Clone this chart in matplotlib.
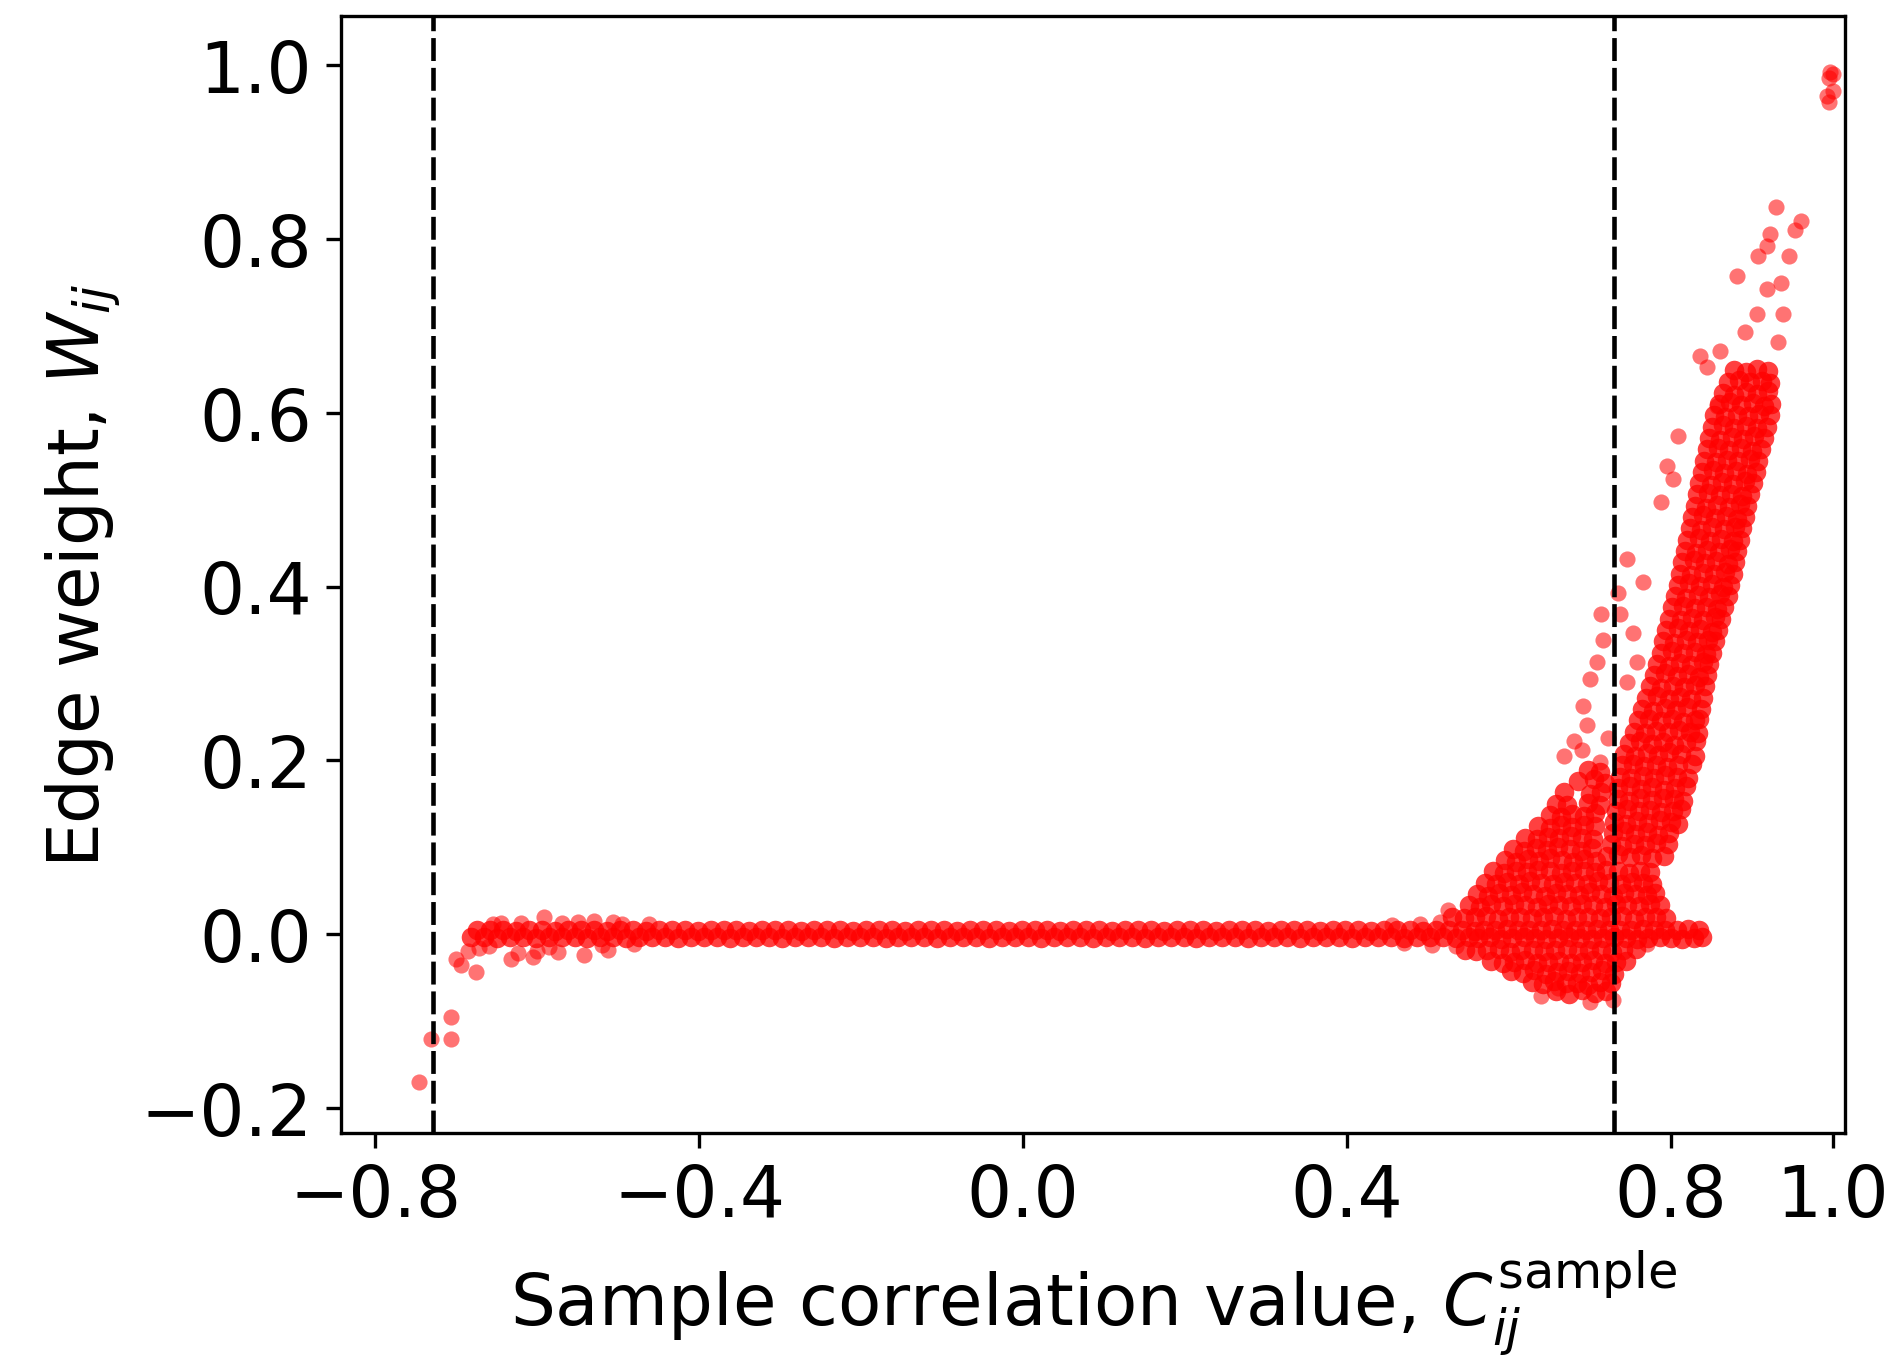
import matplotlib.pyplot as plt

# thresholds (dashed lines)
thresholds = [-0.729, 0.729]

# band of near-zero weights
band_x = [
    -0.674, -0.658, -0.642, -0.626, -0.610, -0.594, -0.578, -0.562, -0.546,
    -0.530, -0.514, -0.498, -0.482, -0.466, -0.450, -0.434, -0.418, -0.402, -0.386,
    -0.370, -0.354, -0.338, -0.322, -0.306, -0.290, -0.274, -0.258, -0.242, -0.226,
    -0.210, -0.194, -0.178, -0.162, -0.146, -0.130, -0.114, -0.098, -0.082, -0.066,
    -0.050, -0.034, -0.018, -0.002, 0.014, 0.030, 0.046, 0.062, 0.078, 0.094,
    0.110, 0.126, 0.142, 0.158, 0.174, 0.190, 0.206, 0.222, 0.238, 0.254,
    0.270, 0.286, 0.302, 0.318, 0.334, 0.350, 0.366, 0.382, 0.398, 0.414,
    0.430, 0.446, 0.462, 0.478, 0.494, 0.510, 0.526, 0.542, 0.558,
    -0.682, -0.666, -0.650, -0.634, -0.618, -0.602, -0.586, -0.570, -0.554, -0.538,
    -0.522, -0.506, -0.490, -0.474, -0.458, -0.442, -0.426, -0.410, -0.394, -0.378,
    -0.362, -0.346, -0.330, -0.314, -0.298, -0.282, -0.266, -0.250, -0.234, -0.218,
    -0.202, -0.186, -0.170, -0.154, -0.138, -0.122, -0.106, -0.090, -0.074, -0.058,
    -0.042, -0.026, -0.010, 0.006, 0.022, 0.038, 0.054, 0.070, 0.086, 0.102,
    0.118, 0.134, 0.150, 0.166, 0.182, 0.198, 0.214, 0.230, 0.246, 0.262,
    0.278, 0.294, 0.310, 0.326, 0.342, 0.358, 0.374, 0.390, 0.406, 0.422,
    0.438, 0.454, 0.470, 0.486, 0.502, 0.518, 0.534, 0.550,
]
band_y = [
    0.004, 0.005, 0.004, 0.003, 0.005, 0.004, 0.003, 0.004, 0.005,
    0.004, 0.003, 0.005, 0.004, 0.003, 0.004, 0.005, 0.004, 0.003, 0.004,
    0.005, 0.004, 0.003, 0.004, 0.005, 0.004, 0.003, 0.004, 0.005, 0.004,
    0.003, 0.004, 0.005, 0.004, 0.003, 0.004, 0.005, 0.004, 0.003, 0.004,
    0.005, 0.004, 0.003, 0.004, 0.005, 0.004, 0.003, 0.004, 0.005, 0.004,
    0.003, 0.004, 0.005, 0.004, 0.003, 0.004, 0.005, 0.004, 0.003, 0.004,
    0.005, 0.004, 0.003, 0.004, 0.005, 0.004, 0.003, 0.004, 0.005, 0.004,
    0.003, 0.004, 0.005, 0.004, 0.003, 0.004, 0.005, 0.004, 0.003,
    -0.004, -0.003, -0.005, -0.004, -0.003, -0.005, -0.004, -0.003, -0.004, -0.005,
    -0.004, -0.003, -0.005, -0.004, -0.003, -0.004, -0.005, -0.004, -0.003, -0.004,
    -0.005, -0.004, -0.003, -0.004, -0.005, -0.004, -0.003, -0.004, -0.005, -0.004,
    -0.003, -0.004, -0.005, -0.004, -0.003, -0.004, -0.005, -0.004, -0.003, -0.004,
    -0.005, -0.004, -0.003, -0.004, -0.005, -0.004, -0.003, -0.004, -0.005, -0.004,
    -0.003, -0.004, -0.005, -0.004, -0.003, -0.004, -0.005, -0.004, -0.003, -0.004,
    -0.005, -0.004, -0.003, -0.004, -0.005, -0.004, -0.003, -0.004, -0.005, -0.004,
    -0.003, -0.004, -0.005, -0.004, -0.003, -0.004, -0.005, -0.004,
]

# dense cloud around 0.5 .. 0.8
cloud_x = [
    0.658, 0.674, 0.690, 0.706, 0.720,
    0.628, 0.642, 0.656, 0.670, 0.684, 0.698, 0.712, 0.726,
    0.603, 0.617, 0.631, 0.645, 0.659, 0.673, 0.687, 0.701, 0.715, 0.729,
    0.578, 0.592, 0.606, 0.620, 0.634, 0.648, 0.662, 0.676, 0.690, 0.704, 0.718, 0.732, 0.745,
    0.545, 0.559, 0.573, 0.587, 0.601, 0.615, 0.629, 0.643, 0.657, 0.671, 0.685, 0.699, 0.713, 0.727, 0.741, 0.757,
    0.562, 0.576, 0.590, 0.604, 0.618, 0.632, 0.646, 0.660, 0.674, 0.688, 0.702, 0.716, 0.730, 0.744, 0.758, 0.772,
    0.786, 0.800, 0.814, 0.828, 0.838,
    0.569, 0.583, 0.597, 0.611, 0.625, 0.639, 0.653, 0.667, 0.681, 0.695, 0.709, 0.723, 0.737, 0.751, 0.765, 0.779,
    0.793, 0.807, 0.821, 0.835,
    0.530, 0.544, 0.558, 0.572, 0.586, 0.600, 0.614, 0.628, 0.642, 0.656, 0.670, 0.684, 0.698, 0.712, 0.726, 0.740,
    0.754, 0.768, 0.782, 0.794,
    0.550, 0.564, 0.578, 0.592, 0.606, 0.620, 0.634, 0.648, 0.662, 0.676, 0.690, 0.704, 0.718, 0.732, 0.746, 0.760, 0.774, 0.786,
    0.560, 0.574, 0.588, 0.602, 0.616, 0.630, 0.644, 0.658, 0.672, 0.686, 0.700, 0.714, 0.728, 0.742, 0.756, 0.770, 0.780,
    0.570, 0.584, 0.598, 0.612, 0.626, 0.640, 0.654, 0.668, 0.682, 0.696, 0.710, 0.724, 0.738, 0.752, 0.766, 0.776,
    0.580, 0.594, 0.608, 0.622, 0.636, 0.650, 0.664, 0.678, 0.692, 0.706, 0.720, 0.734, 0.748, 0.762, 0.774,
    0.595, 0.609, 0.623, 0.637, 0.651, 0.665, 0.679, 0.693, 0.707,
    0.605, 0.619, 0.633, 0.647, 0.661, 0.675, 0.689, 0.703,
    0.620, 0.634, 0.648, 0.662, 0.676, 0.690, 0.704,
    0.636, 0.650, 0.664, 0.678, 0.692, 0.706,
    0.650, 0.664, 0.678, 0.692, 0.706,
    0.658, 0.672, 0.698, 0.712,
    0.668, 0.700, 0.714,
    0.685, 0.705, 0.718,
    0.698, 0.712,
]
cloud_y = [
    -0.066, -0.069, -0.065, -0.068, -0.066,
    -0.055, -0.058, -0.054, -0.057, -0.056, -0.059, -0.055, -0.057,
    -0.043, -0.045, -0.042, -0.046, -0.044, -0.043, -0.045, -0.044, -0.042, -0.046,
    -0.031, -0.033, -0.032, -0.030, -0.034, -0.032, -0.031, -0.033, -0.032, -0.030, -0.033, -0.032, -0.031,
    -0.018, -0.020, -0.019, -0.017, -0.021, -0.019, -0.018, -0.020, -0.019, -0.017, -0.020, -0.019, -0.018, -0.021, -0.019, -0.017,
    -0.005, -0.004, -0.006, -0.005, -0.004, -0.005, -0.006, -0.005, -0.004, -0.005, -0.006, -0.005, -0.004, -0.005, -0.006, -0.005,
    -0.004, -0.005, -0.006, -0.005, -0.004,
    0.005, 0.004, 0.006, 0.005, 0.004, 0.005, 0.006, 0.005, 0.004, 0.005, 0.006, 0.005, 0.004, 0.005, 0.006, 0.005,
    0.004, 0.005, 0.006, 0.005,
    0.020, 0.018, 0.019, 0.021, 0.017, 0.019, 0.020, 0.018, 0.019, 0.021, 0.017, 0.019, 0.020, 0.018, 0.019, 0.021,
    0.017, 0.019, 0.020, 0.018,
    0.033, 0.031, 0.034, 0.032, 0.035, 0.033, 0.031, 0.034, 0.033, 0.032, 0.035, 0.033, 0.031, 0.034, 0.033, 0.032, 0.034, 0.033,
    0.046, 0.044, 0.047, 0.045, 0.048, 0.046, 0.044, 0.047, 0.046, 0.045, 0.048, 0.046, 0.044, 0.047, 0.046, 0.045, 0.047,
    0.059, 0.057, 0.060, 0.058, 0.061, 0.059, 0.057, 0.060, 0.059, 0.058, 0.061, 0.059, 0.057, 0.060, 0.059, 0.058,
    0.072, 0.070, 0.073, 0.071, 0.074, 0.072, 0.070, 0.073, 0.072, 0.071, 0.074, 0.072, 0.070, 0.073, 0.071,
    0.085, 0.083, 0.086, 0.084, 0.087, 0.085, 0.083, 0.086, 0.084,
    0.098, 0.096, 0.099, 0.097, 0.100, 0.098, 0.096, 0.099,
    0.111, 0.109, 0.112, 0.110, 0.113, 0.111, 0.109,
    0.124, 0.122, 0.125, 0.123, 0.126, 0.124,
    0.137, 0.135, 0.138, 0.136, 0.139,
    0.150, 0.148, 0.151, 0.149,
    0.163, 0.161, 0.164,
    0.176, 0.178, 0.174,
    0.189, 0.187,
]

# rising streak of strong edges
streak_x = [
    0.721, 0.735, 0.749, 0.763, 0.777, 0.791,
    0.726, 0.740, 0.754, 0.768, 0.782, 0.796,
    0.728, 0.742, 0.756, 0.770, 0.784, 0.798,
    0.730, 0.744, 0.758, 0.772, 0.786, 0.800, 0.808,
    0.732, 0.746, 0.760, 0.774, 0.788, 0.802, 0.812,
    0.734, 0.748, 0.762, 0.776, 0.790, 0.804, 0.815,
    0.735, 0.749, 0.763, 0.777, 0.791, 0.805, 0.819,
    0.737, 0.751, 0.765, 0.779, 0.793, 0.807, 0.821,
    0.739, 0.753, 0.767, 0.781, 0.795, 0.809, 0.826,
    0.742, 0.756, 0.770, 0.784, 0.798, 0.812, 0.829,
    0.748, 0.762, 0.776, 0.790, 0.804, 0.818, 0.831,
    0.754, 0.768, 0.782, 0.796, 0.810, 0.824, 0.833,
    0.759, 0.773, 0.787, 0.801, 0.815, 0.829, 0.835,
    0.764, 0.778, 0.792, 0.806, 0.820, 0.837,
    0.769, 0.783, 0.797, 0.811, 0.825, 0.839,
    0.774, 0.788, 0.802, 0.816, 0.830, 0.842,
    0.779, 0.793, 0.807, 0.821, 0.835, 0.844,
    0.783, 0.797, 0.811, 0.825, 0.839, 0.847,
    0.787, 0.801, 0.815, 0.829, 0.843, 0.851,
    0.790, 0.804, 0.818, 0.832, 0.846, 0.854,
    0.794, 0.808, 0.822, 0.836, 0.850, 0.858,
    0.798, 0.812, 0.826, 0.840, 0.854, 0.862,
    0.801, 0.815, 0.829, 0.843, 0.857, 0.866,
    0.805, 0.819, 0.833, 0.847, 0.861, 0.870,
    0.808, 0.822, 0.836, 0.850, 0.864, 0.873,
    0.811, 0.825, 0.839, 0.853, 0.867, 0.876,
    0.814, 0.828, 0.842, 0.856, 0.870, 0.879,
    0.817, 0.831, 0.845, 0.859, 0.873, 0.882,
    0.820, 0.834, 0.848, 0.862, 0.876, 0.885,
    0.823, 0.837, 0.851, 0.865, 0.879, 0.888,
    0.826, 0.840, 0.854, 0.868, 0.882, 0.891,
    0.829, 0.843, 0.857, 0.871, 0.885, 0.894,
    0.832, 0.846, 0.860, 0.874, 0.888, 0.898,
    0.835, 0.849, 0.863, 0.877, 0.891, 0.901,
    0.838, 0.852, 0.866, 0.880, 0.894, 0.905,
    0.841, 0.855, 0.869, 0.883, 0.897, 0.908,
    0.844, 0.858, 0.872, 0.886, 0.900, 0.911,
    0.847, 0.861, 0.875, 0.889, 0.903, 0.915,
    0.850, 0.864, 0.878, 0.892, 0.906, 0.919,
    0.853, 0.867, 0.881, 0.895, 0.909, 0.922,
    0.859, 0.873, 0.887, 0.901, 0.915, 0.923,
    0.864, 0.878, 0.892, 0.906, 0.920,
    0.870, 0.884, 0.898, 0.912, 0.922,
    0.878, 0.892, 0.906, 0.920,
]
streak_y = [
    0.090, 0.092, 0.089, 0.091, 0.088, 0.090,
    0.103, 0.101, 0.104, 0.102, 0.105, 0.103,
    0.116, 0.118, 0.115, 0.117, 0.114, 0.116,
    0.129, 0.127, 0.130, 0.128, 0.131, 0.129, 0.127,
    0.142, 0.144, 0.141, 0.143, 0.140, 0.142, 0.144,
    0.155, 0.153, 0.156, 0.154, 0.157, 0.155, 0.153,
    0.168, 0.170, 0.167, 0.169, 0.166, 0.168, 0.170,
    0.181, 0.179, 0.182, 0.180, 0.183, 0.181, 0.179,
    0.194, 0.196, 0.193, 0.195, 0.192, 0.194, 0.196,
    0.207, 0.205, 0.208, 0.206, 0.209, 0.207, 0.205,
    0.220, 0.222, 0.219, 0.221, 0.218, 0.220, 0.222,
    0.233, 0.231, 0.234, 0.232, 0.235, 0.233, 0.231,
    0.246, 0.248, 0.245, 0.247, 0.244, 0.246, 0.248,
    0.259, 0.257, 0.260, 0.258, 0.261, 0.259,
    0.272, 0.274, 0.271, 0.273, 0.270, 0.272,
    0.285, 0.283, 0.286, 0.284, 0.287, 0.285,
    0.298, 0.300, 0.297, 0.299, 0.296, 0.298,
    0.311, 0.309, 0.312, 0.310, 0.313, 0.311,
    0.324, 0.326, 0.323, 0.325, 0.322, 0.324,
    0.337, 0.335, 0.338, 0.336, 0.339, 0.337,
    0.350, 0.352, 0.349, 0.351, 0.348, 0.350,
    0.363, 0.361, 0.364, 0.362, 0.365, 0.363,
    0.376, 0.378, 0.375, 0.377, 0.374, 0.376,
    0.389, 0.387, 0.390, 0.388, 0.391, 0.389,
    0.402, 0.404, 0.401, 0.403, 0.400, 0.402,
    0.415, 0.413, 0.416, 0.414, 0.417, 0.415,
    0.428, 0.430, 0.427, 0.429, 0.426, 0.428,
    0.441, 0.439, 0.442, 0.440, 0.443, 0.441,
    0.454, 0.456, 0.453, 0.455, 0.452, 0.454,
    0.467, 0.465, 0.468, 0.466, 0.469, 0.467,
    0.480, 0.482, 0.479, 0.481, 0.478, 0.480,
    0.493, 0.491, 0.494, 0.492, 0.495, 0.493,
    0.506, 0.508, 0.505, 0.507, 0.504, 0.506,
    0.519, 0.517, 0.520, 0.518, 0.521, 0.519,
    0.532, 0.534, 0.531, 0.533, 0.530, 0.532,
    0.545, 0.543, 0.546, 0.544, 0.547, 0.545,
    0.558, 0.560, 0.557, 0.559, 0.556, 0.558,
    0.571, 0.569, 0.572, 0.570, 0.573, 0.571,
    0.584, 0.586, 0.583, 0.585, 0.582, 0.584,
    0.597, 0.595, 0.598, 0.596, 0.599, 0.597,
    0.610, 0.612, 0.609, 0.611, 0.608, 0.610,
    0.623, 0.621, 0.624, 0.622, 0.625,
    0.636, 0.638, 0.635, 0.637, 0.634,
    0.649, 0.647, 0.650, 0.648,
]

# isolated points
sparse_x = [
    -0.746, -0.731, -0.707, -0.707, -0.700, -0.694, -0.676, -0.686, -0.672, -0.632,
    -0.624, -0.600, -0.575, -0.542, -0.513, -0.592, -0.550, -0.506, -0.570, -0.480,
    -0.462, -0.620, -0.660, -0.645, -0.530, -0.605, -0.655, -0.585, -0.520, -0.495,
    0.455, 0.470, 0.490, 0.505, 0.515, 0.524, 0.535,
    0.640, 0.700, 0.728, 0.660, 0.770,
    0.691, 0.696, 0.700, 0.708, 0.716, 0.714, 0.737, 0.734, 0.746, 0.766,
    0.787, 0.795, 0.803, 0.809, 0.857, 0.836, 0.860, 0.845, 0.891, 0.906,
    0.938, 0.932, 0.753, 0.758, 0.746, 0.668, 0.690, 0.712, 0.722, 0.680,
    0.881, 0.918, 0.930, 0.960, 0.953, 0.922, 0.919, 0.907, 0.946, 0.936,
    0.996, 1.000, 0.995, 0.992, 0.995, 1.000,
]
sparse_y = [
    -0.170, -0.121, -0.121, -0.096, -0.029, -0.036, -0.044, -0.020, -0.016, -0.029,
    -0.022, -0.020, -0.021, -0.024, -0.018, 0.019, 0.014, 0.014, 0.013, -0.012,
    0.012, 0.013, -0.014, 0.013, 0.015, -0.027, 0.012, -0.015, -0.013, 0.011,
    0.010, -0.011, 0.012, -0.013, 0.014, 0.028, -0.014,
    -0.072, -0.078, -0.076, -0.062, -0.012,
    0.262, 0.241, 0.293, 0.313, 0.339, 0.368, 0.368, 0.393, 0.432, 0.405,
    0.497, 0.539, 0.524, 0.573, 0.608, 0.665, 0.671, 0.653, 0.693, 0.714,
    0.714, 0.682, 0.347, 0.313, 0.290, 0.205, 0.212, 0.198, 0.226, 0.222,
    0.757, 0.743, 0.837, 0.821, 0.811, 0.806, 0.792, 0.781, 0.781, 0.749,
    0.993, 0.990, 0.985, 0.965, 0.958, 0.970,
]

xticks = [-0.8, -0.4, 0.0, 0.4, 0.8, 1.0]
yticks = [-0.2, 0.0, 0.2, 0.4, 0.6, 0.8, 1.0]

fig = plt.figure(figsize=(6.303, 4.563), dpi=300)
ax = fig.add_axes([0.1805, 0.1718, 0.7953, 0.8159])

for xs, ys in [(band_x, band_y), (cloud_x, cloud_y), (streak_x, streak_y)]:
    ax.scatter(xs, ys, s=22, color='red', alpha=0.75, linewidths=0)
ax.scatter(sparse_x, sparse_y, s=15, color='red', alpha=0.55, linewidths=0)

for t in thresholds:
    ax.axvline(t, color='black', linestyle=(0, (5, 1.5)), linewidth=1.1)

ax.set_xlim(-0.842, 1.015)
ax.set_ylim(-0.229, 1.057)
ax.set_xticks(xticks)
ax.set_yticks(yticks)
ax.tick_params(labelsize=17)
ax.set_xlabel(r'Sample correlation value, $C_{ij}^{\mathrm{sample}}$', fontsize=17)
ax.set_ylabel(r'Edge weight, $W_{ij}$', fontsize=17)

fig.savefig('out.png', dpi=300)
